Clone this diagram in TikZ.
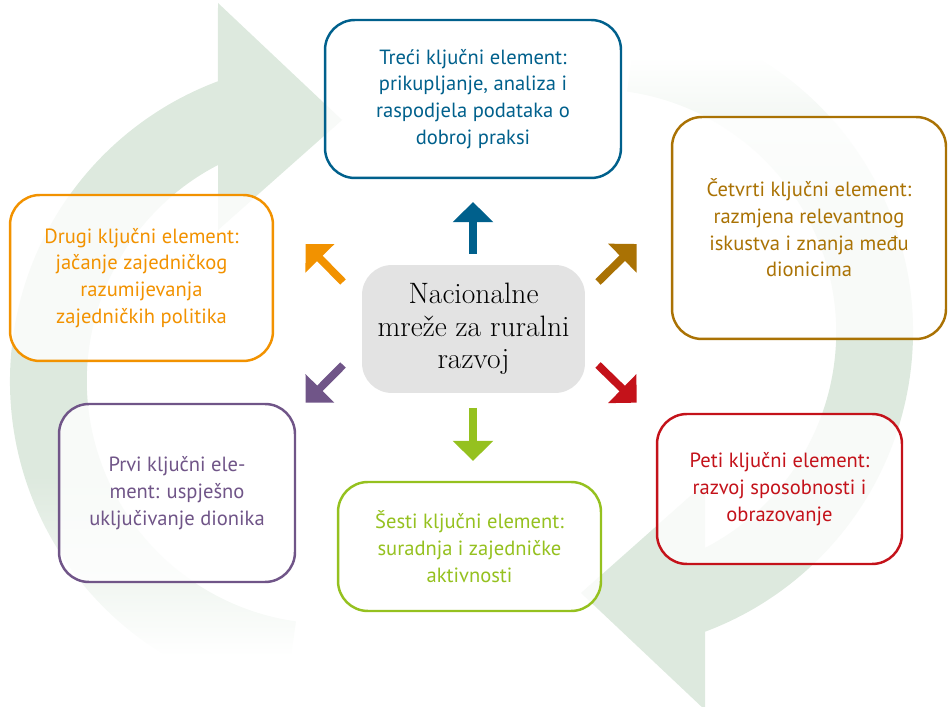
\documentclass[tikz,border=0pt]{standalone}
\usepackage{fontspec}
\setsansfont{PT Sans}
\usetikzlibrary{arrows.meta}

\definecolor{plava}{RGB}{0,96,140}
\definecolor{smeda}{RGB}{170,114,4}
\definecolor{narancasta}{RGB}{242,146,0}
\definecolor{ljubicasta}{RGB}{112,85,136}
\definecolor{crvena}{RGB}{196,18,26}
\definecolor{zelena}{RGB}{149,193,31}
\definecolor{siva}{RGB}{227,227,227}
\definecolor{pozadina}{RGB}{221,233,222}

\pgfdeclareverticalshading{blijedi}{100bp}{color(0bp)=(white); color(28bp)=(white); color(41bp)=(pozadina); color(100bp)=(pozadina)}

\tikzset{
  element/.style={draw=#1, text=#1, line width=1.4pt, rounded corners=17pt, fill=white,
    fill opacity=0.8, text opacity=1, inner sep=0pt, align=center,
    font=\sffamily\fontsize{11.7}{15.2}\selectfont},
  mrezastil/.style={fill=siva, rounded corners=17pt, inner sep=0pt, align=center,
    font=\rmfamily\fontsize{16.8}{18.5}\selectfont},
  strelica/.style={line width=4.4pt, -{Triangle[length=11.5pt, width=22.4pt]}},
  krug/.style={shading=blijedi},
}

\begin{document}
\begin{tikzpicture}[x=0.02cm, y=0.02cm]
\useasboundingbox (0,0) rectangle (949,706);
\clip (0,0) rectangle (949,706);

% pozadinske kruzne strelice
\shade[krug] (330,325) ++(262:320) arc[start angle=262, end angle=110.5, radius=320]
  -- (218,703) -- (342,586) -- (218,476) -- (218,541)
  arc[start angle=117.4, end angle=262, radius=243] -- cycle;
\shade[krug, shading angle=180] (593,374) ++(82:320) arc[start angle=82, end angle=-69.5, radius=320]
  -- (705,-4) -- (581,113) -- (705,223) -- (705,158)
  arc[start angle=-62.6, end angle=82, radius=243] -- cycle;

\node[mrezastil, minimum width=4.46cm, minimum height=2.56cm] (mreza) at (473.5,377) {Nacionalne\\mreže za ruralni\\razvoj};

\node[element=plava, minimum width=5.92cm, minimum height=3.16cm] (treci) at (473,607) {Treći ključni element:\\prikupljanje, analiza i\\raspodjela podataka o\\dobroj praksi};
\node[element=smeda, minimum width=5.48cm, minimum height=4.44cm] (cetvrti) at (809,478) {Četvrti ključni element:\\razmjena relevantnog\\iskustva i znanja među\\dionicima};
\node[element=narancasta, minimum width=5.26cm, minimum height=3.32cm] (drugi) at (141.5,428) {Drugi ključni element:\\jačanje zajedničkog\\razumijevanja\\zajedničkih politika};
\node[element=ljubicasta, minimum width=4.72cm, minimum height=3.56cm] (prvi) at (177,213) {Prvi ključni ele-\\ment: uspješno\\uključivanje dionika};
\node[element=zelena, minimum width=5.26cm, minimum height=2.58cm] (sesti) at (469.5,159.5) {Šesti ključni element:\\suradnja i zajedničke\\aktivnosti};
\node[element=crvena, minimum width=4.9cm, minimum height=3cm] (peti) at (779.5,217) {Peti ključni element:\\razvoj sposobnosti i\\obrazovanje};

\coordinate (g3) at (473,452);   \coordinate (k3) at (473,504);
\coordinate (g6) at (473,298);   \coordinate (k6) at (473,245);
\coordinate (g2) at (343,424);   \coordinate (k2) at (305.7,462);
\coordinate (g4) at (598,424);   \coordinate (k4) at (636.7,462);
\coordinate (g1) at (343,341);   \coordinate (k1) at (305.7,303.3);
\coordinate (g5) at (598,341);   \coordinate (k5) at (636.7,303.3);

\path
    (g3) edge[strelica, plava] (k3)
    (g6) edge[strelica, zelena] (k6)
    (g2) edge[strelica, narancasta] (k2)
    (g4) edge[strelica, smeda] (k4)
    (g1) edge[strelica, ljubicasta] (k1)
    (g5) edge[strelica, crvena] (k5)
    ;
\end{tikzpicture}
\end{document}
